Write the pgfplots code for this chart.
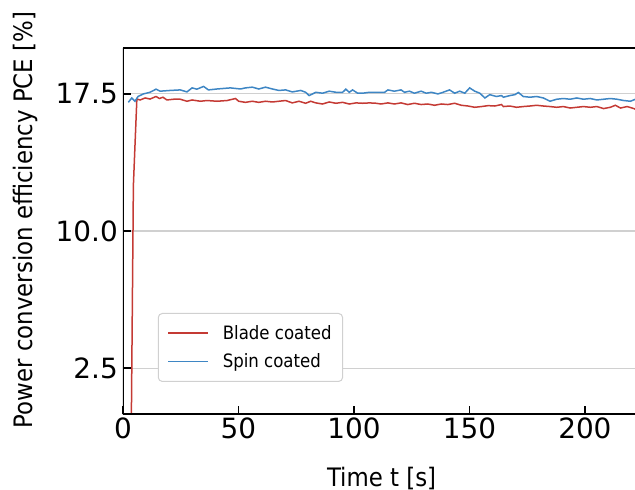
\documentclass[border=0pt]{standalone}
\usepackage{pgfplots}
\pgfplotsset{compat=1.18}
\usepackage{fontspec}
\setmainfont{DejaVu Sans}
\newfontfamily\cond{DejaVu Sans Condensed}
\definecolor{bladered}{RGB}{196,58,52}
\definecolor{spinblue}{RGB}{62,134,196}
\definecolor{gridgray}{RGB}{208,208,208}

\pgfplotstableread{
t v
3.5 -2
4.5 12.5
6.0 17.21
7.4 17.16
9.6 17.27
11.7 17.21
14.3 17.35
15.8 17.24
17.3 17.31
19.0 17.16
21.9 17.20
24.8 17.20
27.7 17.09
29.9 17.16
33.5 17.09
36.4 17.13
40.7 17.09
45.1 17.13
48.7 17.24
50.1 17.09
53.0 17.03
56.0 17.09
58.8 17.03
61.7 17.09
64.7 17.05
67.5 17.09
70.4 17.13
73.3 17.00
76.2 17.09
79.1 16.98
81.3 17.09
83.5 17.00
86.4 16.94
89.3 17.05
92.2 16.98
95.1 17.03
98.0 16.94
100.9 17.00
103.8 16.98
106.7 17.00
109.6 16.98
111.7 16.94
114.7 17.00
117.5 16.94
120.4 17.00
123.3 16.91
126.2 16.98
129.1 16.91
132.0 16.94
134.9 16.87
137.8 16.94
140.7 16.91
143.6 16.98
146.5 16.87
149.4 16.83
152.3 16.76
155.2 16.80
158.1 16.85
161.0 16.83
163.9 16.91
164.7 16.80
167.5 16.83
170.4 16.76
173.3 16.80
176.2 16.83
179.1 16.87
182.0 16.83
184.9 16.80
187.8 16.76
190.7 16.80
193.6 16.72
196.5 16.76
199.4 16.80
202.3 16.76
205.2 16.80
208.1 16.69
211.0 16.76
213.2 16.87
215.4 16.72
218.3 16.80
221.2 16.69
222.6 16.61
}\blade

\pgfplotstableread{
t v
2.3 17.03
3.8 17.27
5.2 17.09
6.5 17.35
8.8 17.49
11.7 17.58
14.3 17.75
16.1 17.64
20.4 17.68
24.8 17.71
27.7 17.60
29.9 17.82
32.0 17.75
34.9 17.90
37.0 17.71
40.7 17.76
46.5 17.82
50.9 17.76
53.0 17.82
56.0 17.86
58.8 17.76
61.7 17.86
64.7 17.76
67.5 17.68
70.4 17.71
73.3 17.60
77.0 17.68
79.1 17.58
80.6 17.40
83.5 17.58
86.4 17.53
89.3 17.64
92.2 17.58
95.1 17.58
96.5 17.75
98.0 17.58
99.4 17.71
101.6 17.53
103.8 17.53
106.7 17.58
109.6 17.58
113.2 17.57
114.7 17.71
117.5 17.64
120.4 17.71
121.9 17.58
124.0 17.64
126.2 17.53
129.1 17.64
131.3 17.53
133.5 17.58
136.4 17.49
138.6 17.58
141.4 17.71
143.6 17.53
145.8 17.64
148.0 17.53
150.1 17.82
152.3 17.64
154.5 17.53
156.7 17.27
158.8 17.45
161.7 17.35
163.9 17.40
164.7 17.31
167.5 17.40
169.7 17.45
171.2 17.57
173.3 17.35
176.2 17.31
179.1 17.35
182.0 17.27
184.9 17.09
187.8 17.20
190.7 17.24
193.6 17.20
196.5 17.27
199.4 17.20
202.3 17.24
205.2 17.16
208.1 17.20
211.0 17.24
213.9 17.20
216.8 17.13
219.7 17.09
221.9 17.20
223.0 17.15
}\spin

\begin{document}
\begin{tikzpicture}
\begin{axis}[
  name=ax,
  scale only axis,
  width=512bp, height=366bp,
  xmin=0, xmax=221.7, ymin=0, ymax=20,
  xtick={0,50,100,150,200},
  ytick={2.5,10,17.5},
  xtick pos=bottom, ytick pos=left,
  tick align=inside,
  major tick length=8bp,
  tick style={black, line width=1.6bp},
  axis line style={draw=none},
  ymajorgrids=true,
  major grid style={gridgray, line width=1.2bp},
  /pgf/number format/assume math mode=true,
  tick label style={font=\fontsize{28}{33}\selectfont},
  y tick label style={/pgf/number format/fixed, /pgf/number format/fixed zerofill, /pgf/number format/precision=1, inner xsep=0pt, xshift=-5bp},
  x tick label style={inner ysep=0pt, yshift=-4bp},
  xlabel={Time t [s]},
  ylabel={Power conversion efficiency PCE [\%]},
  label style={font=\cond\fontsize{25.5}{30}\selectfont},
  xlabel style={at={(axis description cs:0.505,-0.197)}, anchor=base},
  ylabel style={at={(axis description cs:-0.191,0.53)}, anchor=center},
  legend style={at={(axis description cs:0.068,0.276)}, anchor=north west,
    font=\cond\fontsize{18.5}{22}\selectfont,
    draw=gridgray, line width=1bp, rounded corners=4bp, fill=white,
    inner xsep=9bp, inner ysep=10bp, row sep=9bp},
  legend cell align=left,
  legend image code/.code={\draw[#1, line width=1.5bp] (0bp,0bp) -- (40bp,0bp); \path (0bp,0bp) (52bp,0bp);},
]
\addplot[bladered, line width=1.5bp] table[x=t, y=v] {\blade};
\addlegendentry{Blade coated}
\addplot[spinblue, line width=1.5bp] table[x=t, y=v] {\spin};
\addlegendentry{Spin coated}
\draw[black, line width=1.6bp] (rel axis cs:0,1) -- (rel axis cs:0,0) -- (rel axis cs:1,0);
\draw[black, line width=1.6bp] (rel axis cs:0,1) -- (rel axis cs:1,1);
\end{axis}
\pgfresetboundingbox
\path[use as bounding box] ([shift={(-123bp,-76bp)}]ax.south west) rectangle ([shift={(0bp,48bp)}]ax.north east);
\end{tikzpicture}
\end{document}
